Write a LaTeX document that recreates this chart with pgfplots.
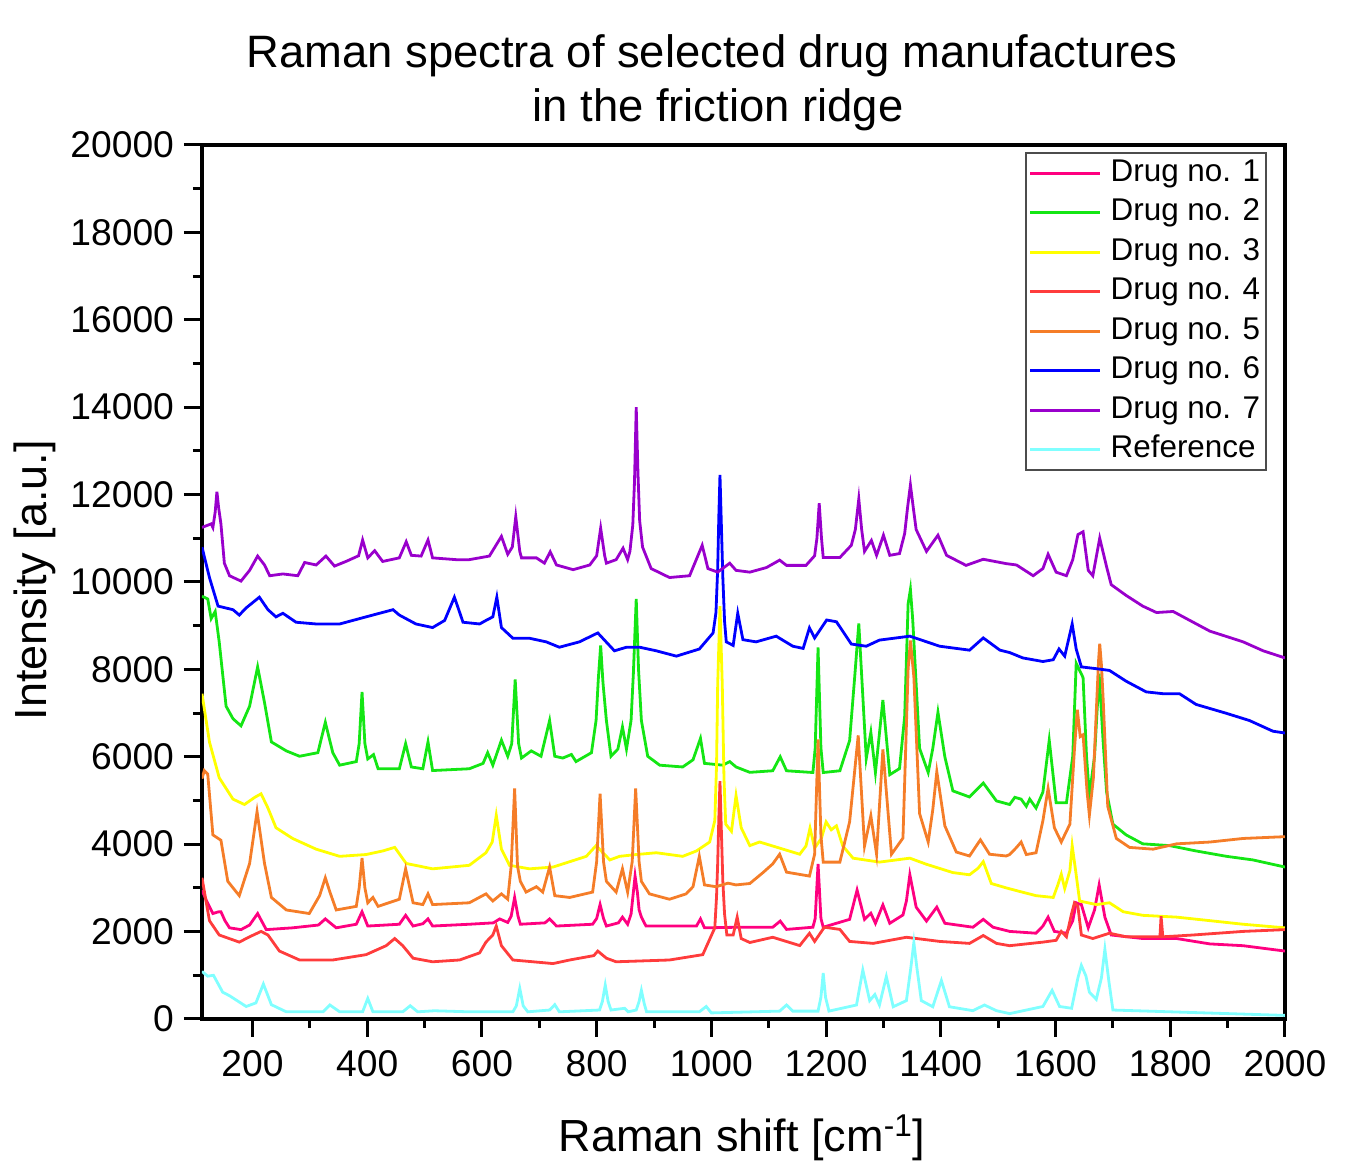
\documentclass[border=0pt]{standalone}
\usepackage{pgfplots}
\pgfplotsset{compat=1.18}
\usepackage{fontspec}
\setmainfont{Liberation Sans}
\definecolor{dA}{RGB}{255,0,128}
\definecolor{dB}{RGB}{20,230,20}
\definecolor{dC}{RGB}{255,255,0}
\definecolor{dD}{RGB}{255,60,60}
\definecolor{dE}{RGB}{245,125,40}
\definecolor{dF}{RGB}{0,0,255}
\definecolor{dG}{RGB}{153,0,204}
\definecolor{dH}{RGB}{128,255,255}
\begin{document}
\begin{tikzpicture}
\begin{axis}[
  name=ax, at={(0,0)}, anchor=south west,
  scale only axis, width=541.5pt, height=437pt,
  xmin=112, xmax=2000, ymin=0, ymax=20000,
  xtick={200,400,...,2000}, minor x tick num=1,
  ytick={0,2000,...,20000}, minor y tick num=1,
  tick align=outside, xtick pos=left, ytick pos=left,
  major tick length=9pt, minor tick length=4.5pt,
  tick style={black, line width=1.5pt},
  axis line style={line width=1.6pt},
  scaled ticks=false,
  /pgf/number format/1000 sep={},
  /pgf/number format/assume math mode=true,
  ticklabel style={font=\fontsize{18.6}{18.6}\selectfont},
  xticklabel style={yshift=-3pt},
  yticklabel style={xshift=-1.5pt},
  xlabel={Raman shift [cm\textsuperscript{-1}]},
  ylabel={Intensity [a.u.]},
  label style={font=\fontsize{22.5}{22.5}\selectfont},
  xlabel style={at={(axis description cs:0.4986,-0.1362)}, anchor=center},
  ylabel style={at={(axis description cs:-0.1542,0.502)}, anchor=center},
  legend cell align=left,
  legend style={at={(axis description cs:0.9834,0.992)}, anchor=north east,
    draw=black!70, line width=0.8pt, inner sep=1.5pt,
    font=\fontsize{15.7}{18}\selectfont, row sep=2.25pt,
    nodes={inner sep=1.5pt, text height=11.3pt, text depth=3.2pt}},
  legend image code/.code={\draw[#1] (0pt,0pt) -- (35pt,0pt); \path (38pt,0pt);},
  every axis plot/.append style={line width=1.4pt},
  legend entries={Drug no. 1, Drug no. 2, Drug no. 3, Drug no. 4, Drug no. 5, Drug no. 6, Drug no. 7, Reference},
]
% Drug 1
\addplot[dA] coordinates {(112,2950) (120,2700) (131,2413) (140,2450) (145,2454) (152,2250) (160,2086) (180,2045) (195,2150) (209,2413) (224,2045) (270,2086) (315,2150) (327,2290) (340,2150) (346,2086) (381,2168) (391,2454) (401,2127) (456,2168) (467,2372) (480,2127) (497,2180) (506,2290) (514,2127) (578,2168) (620,2200) (631,2290) (645,2209) (651,2350) (657,2781) (663,2350) (667,2168) (710,2200) (718,2290) (730,2127) (793,2168) (800,2300) (806,2618) (812,2300) (817,2127) (838,2200) (845,2331) (854,2168) (860,2400) (864,2900) (867,3272) (871,2900) (874,2500) (878,2331) (886,2127) (974,2127) (981,2290) (988,2086) (1049,2100) (1107,2100) (1120,2240) (1131,2050) (1177,2100) (1181,2300) (1186,3550) (1191,2300) (1195,2100) (1241,2280) (1254,2950) (1267,2280) (1278,2420) (1286,2190) (1299,2610) (1311,2190) (1334,2380) (1340,2700) (1346,3300) (1352,2900) (1357,2560) (1375,2240) (1393,2560) (1407,2190) (1456,2100) (1474,2280) (1491,2100) (1520,2004) (1566,1963) (1578,2127) (1587,2331) (1598,2004) (1619,1963) (1630,2250) (1636,2659) (1645,2618) (1657,2086) (1668,2495) (1676,3068) (1686,2331) (1697,1922) (1752,1841) (1811,1841) (1869,1718) (1927,1677) (2000,1554)};
% Drug 2
\addplot[dB] coordinates {(112,9674) (122,9612) (128,9162) (135,9325) (142,8630) (154,7158) (166,6871) (180,6708) (195,7158) (209,8057) (221,7240) (233,6340) (259,6135) (282,6012) (314,6094) (327,6789) (340,6094) (352,5808) (381,5890) (386,6300) (391,7485) (396,6300) (401,5950) (411,6050) (419,5726) (456,5726) (467,6299) (477,5767) (497,5726) (506,6340) (514,5685) (578,5726) (602,5849) (610,6094) (619,5808) (634,6380) (645,6012) (652,6300) (658,7771) (664,6300) (669,5971) (686,6135) (703,6012) (718,6830) (727,6012) (741,5971) (756,6053) (764,5890) (791,6094) (799,6830) (803,7800) (807,8548) (811,7700) (817,6830) (825,6012) (837,6176) (845,6683) (852,6176) (860,6830) (864,7900) (869,9612) (873,8000) (878,6830) (889,6012) (910,5808) (950,5767) (968,5931) (981,6421) (988,5849) (1020,5808) (1032,5890) (1043,5767) (1067,5644) (1107,5680) (1120,6000) (1131,5680) (1177,5640) (1181,6200) (1186,8500) (1191,6200) (1195,5640) (1224,5680) (1241,6370) (1250,7850) (1257,9050) (1264,7390) (1270,5960) (1278,6560) (1286,5640) (1299,7300) (1311,5590) (1328,5730) (1337,6930) (1343,9500) (1347,9830) (1351,9140) (1363,6190) (1378,5640) (1386,6190) (1395,7020) (1407,6000) (1421,5220) (1450,5080) (1474,5400) (1497,4990) (1520,4908) (1529,5072) (1540,5031) (1549,4867) (1555,5031) (1566,4826) (1578,5194) (1589,6380) (1601,4949) (1619,4949) (1630,6012) (1636,8139) (1642,7976) (1648,7812) (1654,6012) (1659,5113) (1668,6012) (1676,7900) (1683,6340) (1689,5194) (1700,4458) (1723,4213) (1752,4008) (1799,3967) (1845,3845) (1898,3722) (1944,3640) (2000,3477)};
% Drug 3
\addplot[dC] coordinates {(112,7444) (125,6340) (142,5521) (166,5031) (186,4908) (204,5072) (215,5153) (227,4826) (241,4376) (270,4131) (311,3886) (352,3722) (398,3763) (427,3845) (448,3927) (468,3559) (514,3436) (578,3517) (607,3804) (618,4049) (625,4663) (634,3886) (648,3517) (683,3436) (724,3477) (753,3599) (782,3722) (799,3967) (823,3640) (840,3722) (869,3763) (904,3804) (927,3763) (950,3722) (974,3845) (997,4049) (1006,4540) (1009,5800) (1011,7648) (1015,9448) (1019,7648) (1022,5500) (1025,4458) (1035,4295) (1043,5113) (1052,4376) (1067,3967) (1084,4050) (1119,3910) (1154,3770) (1165,3960) (1172,4370) (1180,3910) (1192,4140) (1200,4510) (1209,4330) (1218,4420) (1229,3960) (1247,3680) (1293,3590) (1346,3680) (1375,3540) (1421,3350) (1450,3300) (1465,3450) (1474,3600) (1488,3100) (1514,3000) (1537,2920) (1566,2822) (1596,2781) (1604,3068) (1610,3313) (1616,2986) (1625,3395) (1629,3967) (1635,3395) (1642,2700) (1671,2618) (1694,2659) (1718,2454) (1752,2372) (1811,2331) (1869,2250) (1927,2168) (2000,2086)};
% Drug 4
\addplot[dD] coordinates {(112,3231) (125,2250) (142,1922) (177,1759) (195,1881) (215,2004) (227,1922) (247,1554) (282,1350) (340,1350) (398,1472) (433,1677) (448,1841) (462,1677) (480,1391) (514,1309) (561,1350) (596,1513) (607,1759) (619,1922) (625,2127) (634,1677) (654,1350) (724,1268) (753,1350) (795,1450) (802,1554) (817,1391) (834,1309) (927,1350) (985,1472) (1006,2086) (1009,2800) (1011,3558) (1013,4600) (1015,5440) (1017,4500) (1020,3149) (1023,2400) (1027,1922) (1038,1922) (1045,2331) (1052,1841) (1067,1750) (1107,1870) (1154,1680) (1171,1960) (1180,1775) (1197,2100) (1224,2050) (1241,1775) (1282,1730) (1340,1870) (1398,1775) (1450,1730) (1474,1910) (1497,1730) (1520,1677) (1578,1759) (1601,1800) (1610,2004) (1619,1881) (1628,2413) (1633,2659) (1639,2577) (1645,1922) (1665,1841) (1694,1963) (1723,1881) (1782,1881) (1784,2350) (1787,1881) (1840,1922) (1927,2004) (2000,2045)};
% Drug 5
\addplot[dE] coordinates {(112,5500) (116,5685) (122,5603) (131,4213) (145,4090) (157,3149) (177,2822) (195,3558) (208,4744) (221,3558) (233,2781) (259,2495) (299,2413) (317,2822) (327,3231) (335,2904) (346,2495) (381,2577) (386,3000) (391,3681) (396,3000) (401,2659) (410,2781) (419,2577) (456,2740) (467,3436) (480,2659) (497,2618) (506,2863) (514,2618) (578,2659) (607,2863) (619,2700) (634,2863) (645,2740) (651,3500) (657,5276) (662,3500) (667,3149) (677,2904) (695,3027) (706,2904) (718,3477) (727,2822) (753,2781) (793,2904) (800,3600) (806,5153) (812,3600) (817,3149) (834,2904) (845,3436) (854,2904) (862,3600) (868,5276) (874,3600) (878,3149) (892,2863) (927,2740) (956,2863) (968,3027) (979,3722) (988,3068) (1008,3027) (1029,3108) (1043,3068) (1067,3100) (1090,3350) (1107,3550) (1119,3770) (1131,3360) (1171,3270) (1180,3770) (1186,6400) (1191,4200) (1195,3590) (1224,3590) (1241,4510) (1256,6490) (1267,3960) (1278,4650) (1288,3770) (1299,6170) (1314,3770) (1334,4140) (1343,8010) (1347,8660) (1353,7830) (1363,4700) (1378,4050) (1386,4790) (1393,5660) (1407,4420) (1427,3820) (1450,3730) (1469,4100) (1485,3770) (1514,3730) (1520,3763) (1532,3926) (1540,4049) (1549,3763) (1566,3804) (1578,4540) (1587,5276) (1598,4376) (1610,4049) (1625,4458) (1633,6176) (1638,7076) (1643,6462) (1648,6503) (1655,5194) (1659,4663) (1666,5522) (1672,7321) (1675,8200) (1677,8589) (1680,8100) (1683,7321) (1691,4867) (1706,4131) (1729,3926) (1770,3886) (1811,4008) (1869,4049) (1927,4131) (2000,4172)};
% Drug 6
\addplot[dF] coordinates {(112,10798) (125,10102) (140,9448) (166,9366) (177,9243) (189,9407) (212,9652) (227,9366) (241,9202) (253,9284) (276,9079) (311,9039) (352,9039) (398,9202) (445,9366) (456,9243) (485,9039) (514,8957) (535,9120) (544,9400) (552,9652) (560,9350) (567,9079) (596,9039) (607,9120) (619,9202) (626,9652) (634,8957) (654,8712) (683,8712) (712,8630) (735,8507) (770,8630) (802,8834) (831,8425) (852,8507) (875,8507) (904,8425) (939,8303) (979,8466) (1003,8834) (1008,9300) (1011,10300) (1013,11500) (1015,12450) (1017,11500) (1020,10100) (1023,9100) (1026,8630) (1038,8548) (1046,9284) (1055,8680) (1078,8630) (1113,8760) (1142,8530) (1160,8480) (1171,8950) (1180,8720) (1201,9130) (1218,9090) (1244,8580) (1270,8530) (1293,8670) (1346,8760) (1398,8530) (1450,8440) (1474,8720) (1503,8440) (1520,8385) (1543,8262) (1578,8180) (1596,8221) (1606,8466) (1616,8303) (1629,9039) (1636,8466) (1645,8057) (1671,8016) (1694,7976) (1723,7730) (1758,7485) (1787,7444) (1816,7444) (1845,7198) (1898,6994) (1938,6830) (1979,6585) (2000,6544)};
% Drug 7
\addplot[dG] coordinates {(112,11248) (128,11330) (131,11248) (135,11600) (138,12066) (141,11700) (145,11330) (151,10430) (160,10143) (180,10020) (195,10266) (209,10593) (221,10389) (230,10143) (253,10184) (279,10143) (291,10446) (311,10389) (328,10593) (343,10364) (363,10470) (385,10600) (392,10961) (401,10552) (413,10716) (427,10470) (456,10552) (468,10921) (477,10610) (494,10593) (506,10961) (514,10552) (555,10511) (578,10511) (613,10593) (634,11043) (645,10634) (653,10800) (659,11493) (666,10700) (669,10552) (695,10552) (709,10430) (719,10691) (730,10389) (759,10282) (788,10389) (800,10600) (807,11231) (814,10600) (817,10430) (834,10511) (846,10773) (854,10511) (858,10700) (863,11300) (866,12300) (869,14000) (872,12500) (875,11400) (880,10800) (895,10307) (927,10102) (962,10143) (984,10839) (994,10307) (1011,10225) (1032,10430) (1043,10266) (1067,10225) (1096,10330) (1119,10500) (1131,10380) (1165,10380) (1180,10600) (1184,11000) (1188,11800) (1192,11000) (1195,10560) (1224,10560) (1244,10840) (1251,11200) (1257,11900) (1262,11200) (1267,10700) (1279,10950) (1288,10610) (1300,11070) (1311,10610) (1328,10650) (1337,11110) (1342,11700) (1347,12220) (1352,11700) (1357,11200) (1375,10700) (1395,11070) (1410,10610) (1444,10380) (1474,10520) (1514,10420) (1532,10389) (1561,10143) (1578,10307) (1587,10634) (1601,10225) (1619,10143) (1630,10511) (1639,11084) (1648,11149) (1657,10266) (1665,10143) (1677,11002) (1689,10348) (1697,9939) (1723,9693) (1752,9448) (1776,9301) (1805,9325) (1834,9121) (1869,8875) (1898,8753) (1927,8630) (1962,8425) (2000,8262)};
% Reference
\addplot[dH] coordinates {(112,1087) (122,980) (132,1000) (148,614) (160,532) (189,286) (206,368) (219,800) (233,327) (259,164) (323,164) (335,320) (352,164) (392,164) (401,470) (410,164) (462,164) (475,303) (488,164) (517,188) (578,164) (654,164) (660,300) (666,700) (672,300) (680,164) (718,205) (727,327) (735,164) (805,205) (810,400) (815,777) (820,400) (825,205) (849,245) (855,164) (869,205) (874,400) (878,654) (883,350) (887,164) (979,164) (991,286) (1000,139) (1119,180) (1131,320) (1142,180) (1186,180) (1191,500) (1195,1050) (1199,500) (1205,180) (1253,320) (1264,1120) (1276,420) (1285,560) (1293,320) (1305,970) (1317,280) (1340,420) (1348,1200) (1353,1750) (1358,1200) (1366,420) (1386,280) (1401,880) (1415,280) (1456,190) (1476,320) (1497,190) (1520,123) (1578,286) (1594,654) (1607,286) (1628,245) (1639,941) (1645,1227) (1653,982) (1659,614) (1671,450) (1680,941) (1686,1595) (1693,859) (1700,205) (2000,82)};
\end{axis}
\node[font=\fontsize{22.7}{27.5}\selectfont, anchor=base, inner sep=0pt] at ([shift={(255pt,38.5pt)}]ax.north west) {Raman spectra of selected drug manufactures};
\node[font=\fontsize{22.7}{27.5}\selectfont, anchor=base, inner sep=0pt] at ([shift={(258pt,11.5pt)}]ax.north west) {in the friction ridge};
\pgfresetboundingbox
\path (ax.south west) +(-101pt,-73pt) rectangle +(572pt,509.5pt);
\end{tikzpicture}
\end{document}
